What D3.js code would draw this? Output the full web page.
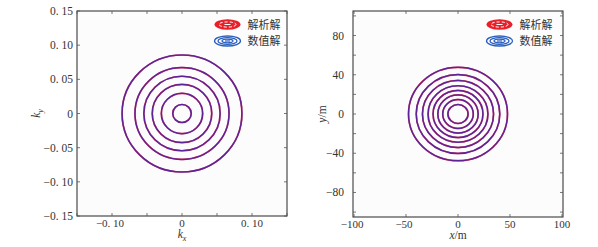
<!DOCTYPE html>
<html lang="zh">
<head>
<meta charset="utf-8">
<title>Contours</title>
<script src="https://cdn.jsdelivr.net/npm/d3@7/dist/d3.min.js"></script>
<style>
  body { margin: 0; background: #fff; }
  svg text { font-family: "Liberation Serif", "DejaVu Serif", serif; fill: #333; }
  .cjk { font-family: "Noto Sans CJK SC", sans-serif; }
</style>
</head>
<body>
<script>
// data
const legendNames = ["解析解", "数值解"];

// left: wavenumber domain
const kDomain = [-0.15, 0.15];
const kyTicks = [-0.15, -0.10, -0.05, 0, 0.05, 0.10, 0.15];
const kxMajor = [-0.10, 0, 0.10];
const kxMinor = [-0.15, -0.05, 0.05, 0.15];
const kRadii = [0.0132, 0.0295, 0.0425, 0.0545, 0.0672, 0.0856];

// right: space domain
const xDomain = [-101, 101];
const yDomain = [-105, 105];
const xTicks = [-100, -50, 0, 50, 100];
const yMajor = [-80, -40, 0, 40, 80];
const yMinor = [-100, -60, -20, 20, 60, 100];
const xyRadii = [9.7, 14.7, 19.4, 24, 28.8, 34.2, 40.2, 47.6];

const W = 598, H = 247;
const svg = d3.select("body").append("svg").attr("width", W).attr("height", H);

function fmtK(d) {
  if (Math.abs(d) < 1e-9) return "0";
  let s = Math.abs(d).toFixed(2).replace(".", ". ");
  return (d < 0 ? "\u2212" : "") + s;
}
function fmtN(d) { return (d < 0 ? "\u2212" : "") + Math.abs(d); }

function panel(opt) {
  const g = svg.append("g");
  const x = d3.scaleLinear().domain(opt.xd).range([opt.x0, opt.x1]);
  const y = d3.scaleLinear().domain(opt.yd).range([opt.y1, opt.y0]);
  const tl = 3;

  // frame
  g.append("rect").attr("x", opt.x0).attr("y", opt.y0)
    .attr("width", opt.x1 - opt.x0).attr("height", opt.y1 - opt.y0)
    .attr("fill", "#fcfcfc").attr("stroke", "#3a3a3a").attr("stroke-width", 1.1);

  // ticks inward, all sides
  const xt = opt.xMajor.concat(opt.xMinor), yt = opt.yMajor.concat(opt.yMinor);
  xt.forEach(v => {
    g.append("line").attr("x1", x(v)).attr("x2", x(v)).attr("y1", opt.y1).attr("y2", opt.y1 - tl)
      .attr("stroke", "#555").attr("stroke-width", 0.8);
    g.append("line").attr("x1", x(v)).attr("x2", x(v)).attr("y1", opt.y0).attr("y2", opt.y0 + tl)
      .attr("stroke", "#555").attr("stroke-width", 0.8);
  });
  yt.forEach(v => {
    g.append("line").attr("y1", y(v)).attr("y2", y(v)).attr("x1", opt.x0).attr("x2", opt.x0 + tl)
      .attr("stroke", "#555").attr("stroke-width", 0.8);
    g.append("line").attr("y1", y(v)).attr("y2", y(v)).attr("x1", opt.x1).attr("x2", opt.x1 - tl)
      .attr("stroke", "#555").attr("stroke-width", 0.8);
  });

  // tick labels
  g.selectAll(".xl").data(opt.xMajor).enter().append("text")
    .attr("x", d => x(d) + (d < 0 ? -2 : 0)).attr("y", opt.y1 + 10.5)
    .attr("text-anchor", "middle").attr("font-size", 11).text(opt.fmt);
  g.selectAll(".yl").data(opt.yMajor).enter().append("text")
    .attr("x", opt.x0 - opt.ypad).attr("y", d => y(d) + 4)
    .attr("text-anchor", "end").attr("font-size", 11.5).text(opt.fmt);

  // contours: analytic (red) under numerical (blue)
  const cx = x(0), cy = y(0);
  g.selectAll(".ra").data(opt.radii).enter().append("ellipse")
    .attr("cx", cx).attr("cy", cy)
    .attr("rx", d => x(d) - cx).attr("ry", d => cy - y(d))
    .attr("fill", "none").attr("stroke", "#e8304a").attr("stroke-width", 1.7);
  g.selectAll(".rb").data(opt.radii).enter().append("ellipse")
    .attr("cx", cx).attr("cy", cy)
    .attr("rx", d => x(d) - cx).attr("ry", d => cy - y(d))
    .attr("fill", "none").attr("stroke", "#3020b0").attr("stroke-width", 1.5)
    .attr("stroke-opacity", 0.75);

  // legend
  const lx = opt.legX, ly = [24.5, 41];
  const ic = g.append("g").attr("transform", `translate(${lx},${ly[0]})`);
  ic.append("ellipse").attr("rx", 13).attr("ry", 5.2).attr("fill", "#e8202a");
  ic.append("ellipse").attr("rx", 8.5).attr("ry", 2.6).attr("fill", "none")
    .attr("stroke", "#fff").attr("stroke-width", 1).attr("stroke-dasharray", "3,2");
  ic.append("line").attr("x1", -3).attr("x2", 3).attr("stroke", "#fff").attr("stroke-width", 1);
  const ib = g.append("g").attr("transform", `translate(${lx},${ly[1]})`);
  [[13, 5], [9.5, 3.4], [5.5, 1.8]].forEach(e => {
    ib.append("ellipse").attr("rx", e[0]).attr("ry", e[1]).attr("fill", "none")
      .attr("stroke", "#2a5fbf").attr("stroke-width", 1.3);
  });
  ib.append("line").attr("x1", -2.5).attr("x2", 2.5).attr("stroke", "#2a5fbf").attr("stroke-width", 1.2);
  legendNames.forEach((n, i) => {
    g.append("text").attr("class", "cjk").attr("x", lx + 20).attr("y", ly[i] + 4.2)
      .attr("font-size", 11).attr("fill", "#444").text(n);
  });

  // axis titles
  const xt1 = g.append("text").attr("x", (opt.x0 + opt.x1) / 2).attr("y", opt.y1 + 22)
    .attr("text-anchor", "middle").attr("font-size", 11.5);
  xt1.append("tspan").attr("font-style", "italic").text(opt.xl[0]);
  xt1.append("tspan").attr("font-size", opt.xl[2] ? 8 : 11.5).attr("dy", opt.xl[2] ? 2.5 : 0)
    .attr("font-style", opt.xl[2] ? "italic" : "normal").text(opt.xl[1]);
  const yt1 = g.append("text")
    .attr("transform", `translate(${opt.ytx},${(opt.y0 + opt.y1) / 2}) rotate(-90)`)
    .attr("text-anchor", "middle").attr("font-size", 11.5);
  yt1.append("tspan").attr("font-style", "italic").text(opt.yl[0]);
  yt1.append("tspan").attr("font-size", opt.yl[2] ? 8 : 11.5).attr("dy", opt.yl[2] ? 2.5 : 0)
    .attr("font-style", opt.yl[2] ? "italic" : "normal").text(opt.yl[1]);
}

panel({
  x0: 77, x1: 287, y0: 11, y1: 216,
  xd: kDomain, yd: kDomain,
  xMajor: kxMajor, xMinor: kxMinor, yMajor: kyTicks, yMinor: [],
  radii: kRadii, fmt: fmtK, ypad: 4, legX: 227.5,
  xl: ["k", "x", true], yl: ["k", "y", true], ytx: 40
});

panel({
  x0: 353, x1: 563, y0: 11, y1: 217,
  xd: xDomain, yd: yDomain,
  xMajor: xTicks, xMinor: [], yMajor: yMajor, yMinor: yMinor,
  radii: xyRadii, fmt: fmtN, ypad: 9, legX: 499.5,
  xl: ["x", "/m", false], yl: ["y", "/m", false], ytx: 326
});
</script>
</body>
</html>
